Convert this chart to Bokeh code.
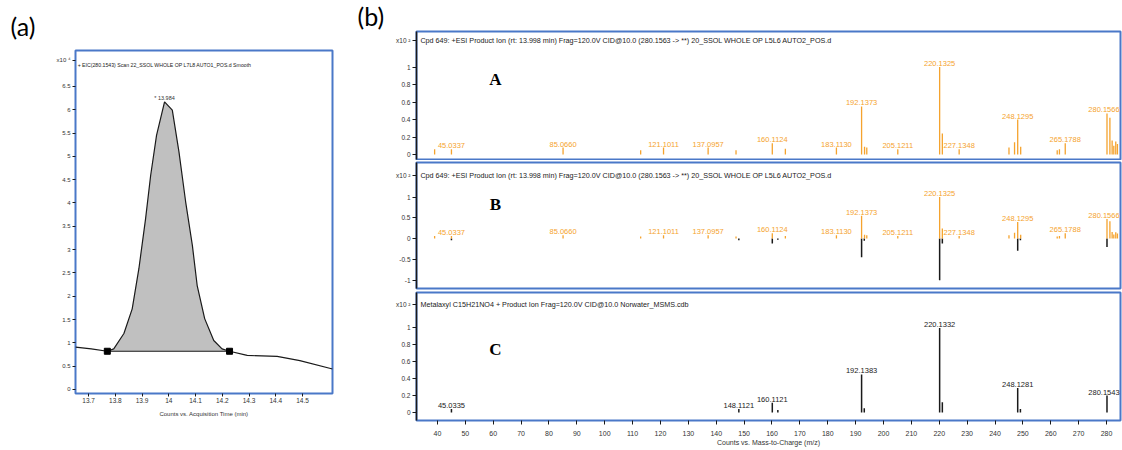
import numpy as np
from bokeh.plotting import figure
from bokeh.layouts import row, column
from bokeh.models import Range1d, Label, FixedTicker, NumeralTickFormatter, Title
from bokeh.core.properties import value
from bokeh.embed import file_html
from bokeh.resources import INLINE

SANS = "Liberation Sans"
ORANGE = "#F5A32E"
BLUE = "#4A78C8"
DARK = "#1a1a1a"
TICKC = "#333333"

# ---------------- (a) EIC data ----------------
eic_time = [13.651, 13.71, 13.770, 13.794, 13.832, 13.863, 13.888, 13.913, 13.932, 13.954,
            13.984, 14.013, 14.038, 14.063, 14.088, 14.106, 14.134, 14.168, 14.199, 14.227,
            14.293, 14.405, 14.49, 14.612]
eic_counts = [0.91, 0.87, 0.82, 0.87, 1.20, 1.73, 2.59, 3.66, 4.59, 5.45,
              6.17, 5.99, 5.09, 4.02, 3.09, 2.23, 1.52, 1.05, 0.87, 0.82,
              0.73, 0.71, 0.62, 0.44]
integ_time = [13.770, 14.227]
integ_level = [0.82, 0.82]
apex_time = 13.984
apex_count = 6.17
a_xticks = [13.7, 13.8, 13.9, 14.0, 14.1, 14.2, 14.3, 14.4, 14.5]
a_yticks = [0, 0.5, 1, 1.5, 2, 2.5, 3, 3.5, 4, 4.5, 5, 5.5, 6, 6.5]
a_title = "+ EIC(280.1543) Scan 22_SSOL WHOLE OP L7L8 AUTO1_POS.d  Smooth"
a_mult = "x10 \u2074"

# ---------------- (b) spectra data ----------------
A_label_mz = [45.0337, 85.0660, 121.1011, 137.0957, 160.1124, 183.1130, 192.1373,
              205.1211, 220.1325, 227.1348, 248.1295, 265.1788, 280.1566]
A_label_int = [0.06, 0.08, 0.08, 0.08, 0.13, 0.08, 0.55,
               0.06, 1.00, 0.06, 0.40, 0.13, 0.47]
A_extra_mz = [39.0, 112.9, 147.1, 164.8, 193.2, 194.0, 221.1, 245.0, 247.0, 249.2,
              262.3, 263.1, 281.2, 282.0, 282.6, 283.3, 283.9]
A_extra_int = [0.06, 0.05, 0.05, 0.065, 0.09, 0.08, 0.24, 0.08, 0.14, 0.09,
               0.05, 0.06, 0.42, 0.16, 0.10, 0.15, 0.12]

C_label_mz = [45.0335, 148.1121, 160.1121, 192.1383, 220.1332, 248.1281, 280.1543]
C_label_int = [0.04, 0.04, 0.115, 0.45, 1.00, 0.29, 0.20]
C_extra_mz = [162.1, 193.1, 221.1, 249.1]
C_extra_int = [0.03, 0.05, 0.12, 0.04]

spec_xticks = list(range(40, 290, 10))
A_yticks = [0, 0.2, 0.4, 0.6, 0.8, 1]
B_yticks = [-1, -0.5, 0, 0.5, 1]
C_yticks = [0, 0.2, 0.4, 0.6, 0.8, 1]
spec_mult = "x10 \u00b2"
title_AB = "Cpd 649: +ESI Product Ion (rt: 13.998 min) Frag=120.0V CID@10.0 (280.1563 -> **) 20_SSOL WHOLE OP L5L6 AUTO2_POS.d"
title_C = "Metalaxyl C15H21NO4 + Product Ion Frag=120.0V CID@10.0 Norwater_MSMS.cdb"


def style_axis(ax, size):
    ax.major_label_text_font = SANS
    ax.major_label_text_font_size = size
    ax.major_label_text_color = TICKC
    ax.major_tick_in = 0
    ax.major_tick_out = 3
    ax.minor_tick_line_color = None
    ax.major_tick_line_color = DARK


def set_yticks(ax, ticks, mult_y, mult_text):
    ax.ticker = FixedTicker(ticks=ticks + [mult_y])
    ax.formatter = NumeralTickFormatter(format="0.[0]")
    ax.major_label_overrides = {mult_y: mult_text}


# ---------------- figure (a) ----------------
fa = figure(width=350, height=425, x_range=Range1d(13.651, 14.612), y_range=Range1d(-0.086, 7.27),
            output_backend="svg", toolbar_location=None,
            min_border_left=75, min_border_right=18, min_border_top=50, min_border_bottom=32)
fa.outline_line_color = BLUE
fa.outline_line_width = 2
fa.grid.visible = False
fa.xaxis.ticker = FixedTicker(ticks=a_xticks)
fa.xaxis.formatter = NumeralTickFormatter(format="0.[0]")
set_yticks(fa.yaxis[0], a_yticks, 7.06, a_mult)
style_axis(fa.xaxis[0], "6.5px")
style_axis(fa.yaxis[0], "6px")
fa.xaxis.axis_line_color = None
fa.yaxis.axis_line_color = None
fa.xaxis.major_label_standoff = 1
fa.yaxis.major_label_standoff = 2
fa.xaxis.axis_label = "Counts vs. Acquisition Time (min)"
fa.xaxis.axis_label_text_font = SANS
fa.xaxis.axis_label_text_font_size = "6px"
fa.xaxis.axis_label_text_font_style = "normal"
fa.xaxis.axis_label_text_color = TICKC
fa.xaxis.axis_label_standoff = 5
fa.add_layout(Title(text="(a)", align="left", offset=-65, text_font="Lato", text_font_size="25px",
                    text_font_style="normal", text_color="black", standoff=15,
                    vertical_align="top"), "above")

# filled integrated region
i0 = eic_time.index(integ_time[0])
i1 = eic_time.index(integ_time[1])
fill_t = eic_time[i0:i1 + 1]
fill_c = eic_counts[i0:i1 + 1]
fill_base = list(np.interp(fill_t, integ_time, integ_level))
fa.varea(x=fill_t, y1=fill_base, y2=fill_c, fill_color="#C0C0C0")
fa.line(x=integ_time, y=integ_level, line_color=DARK, line_width=1.2)
fa.line(x=eic_time, y=eic_counts, line_color=DARK, line_width=1.2)
fa.scatter(x=integ_time, y=integ_level, marker="square", size=6, fill_color="black", line_color="black")
fa.text(x=[apex_time], y=[apex_count], text=[f"* {apex_time}"], text_font=value(SANS),
        text_font_size="5.5px", text_align="center", text_baseline="bottom", y_offset=-1,
        text_color=TICKC)
fa.add_layout(Label(x=13.659, y=6.95, text=a_title, text_font=SANS, text_font_size="5.2px",
                    text_baseline="middle", text_color=DARK))

# ---------------- spectra figures ----------------
xr = Range1d(32.5, 285.0)


def spec_fig(h, top, bottom, y0, y1, yticks, mult_y, with_xaxis):
    p = figure(width=772, height=h, x_range=xr, y_range=Range1d(y0, y1),
               output_backend="svg", toolbar_location=None,
               min_border_left=66, min_border_right=2, min_border_top=top, min_border_bottom=bottom,
               x_axis_location="below" if with_xaxis else None)
    p.outline_line_color = BLUE
    p.outline_line_width = 2
    p.grid.visible = False
    set_yticks(p.yaxis[0], yticks, mult_y, spec_mult)
    style_axis(p.yaxis[0], "6.5px")
    p.yaxis.major_tick_out = 4
    p.yaxis.major_label_standoff = 2
    p.yaxis.axis_line_color = DARK
    p.yaxis.axis_line_width = 1.5
    return p


def add_title(p, y, txt):
    p.add_layout(Label(x=33.9, y=y, text=txt, text_font=SANS, text_font_size="7.2px",
                       text_baseline="middle", text_color=DARK))


def add_letter(p, y, letter):
    p.add_layout(Label(x=60.8, y=y, text=letter, text_font="Liberation Serif", text_font_size="17px",
                       text_font_style="bold", text_align="center", text_baseline="middle",
                       text_color="black"))


def stems(p, mz, inten, color, w=1.3):
    p.segment(x0=mz, y0=[0] * len(mz), x1=mz, y1=inten, line_color=color, line_width=w)


def peak_labels(p, mz, inten, color):
    kw = dict(text_font=value(SANS), text_font_size="7.5px", text_baseline="bottom",
              y_offset=-1, text_color=color)
    p.text(x=mz[:-1], y=inten[:-1], text=[f"{m:.4f}" for m in mz[:-1]], text_align="center", **kw)
    # last label kept inside the frame edge
    p.text(x=mz[-1:], y=inten[-1:], text=[f"{m:.4f}" for m in mz[-1:]], text_align="center",
           x_offset=-3, **kw)


# Panel A
pA = spec_fig(160, 31, 1, -0.057, 1.406, A_yticks, 1.30, False)
stems(pA, A_extra_mz, A_extra_int, ORANGE)
stems(pA, A_label_mz, A_label_int, ORANGE)
peak_labels(pA, A_label_mz, A_label_int, ORANGE)
add_title(pA, 1.30, title_AB)
add_letter(pA, 0.857, "A")
pA.add_layout(Title(text="(b)", align="left", offset=-59, text_font="Lato", text_font_size="25px",
                    text_font_style="normal", text_color="black", standoff=-2,
                    vertical_align="top"), "above")

# Panel B (mirror)
pB = spec_fig(130, 2, 2, -1.2, 1.83, B_yticks, 1.52, False)
stems(pB, C_extra_mz, [-v for v in C_extra_int], DARK, 1.5)
stems(pB, C_label_mz, [-v for v in C_label_int], DARK, 1.5)
stems(pB, A_extra_mz, A_extra_int, ORANGE)
stems(pB, A_label_mz, A_label_int, ORANGE)
peak_labels(pB, A_label_mz, A_label_int, ORANGE)
add_title(pB, 1.52, title_AB)
add_letter(pB, 0.82, "B")

# Panel C (library)
pC = spec_fig(158, 2, 28, -0.095, 1.42, C_yticks, 1.28, True)
pC.xaxis.ticker = FixedTicker(ticks=spec_xticks)
style_axis(pC.xaxis[0], "7px")
pC.xaxis.major_tick_out = 4
pC.xaxis.major_label_standoff = 6
pC.xaxis.axis_line_color = None
pC.xaxis.axis_label = "Counts vs. Mass-to-Charge (m/z)"
pC.xaxis.axis_label_text_font = SANS
pC.xaxis.axis_label_text_font_size = "7px"
pC.xaxis.axis_label_text_font_style = "normal"
pC.xaxis.axis_label_text_color = TICKC
pC.xaxis.axis_label_standoff = 0
stems(pC, C_extra_mz, C_extra_int, DARK, 1.5)
stems(pC, C_label_mz, C_label_int, DARK, 1.5)
peak_labels(pC, C_label_mz, C_label_int, DARK)
add_title(pC, 1.28, title_C)
add_letter(pC, 0.742, "C")

layout = row(fa, column(pA, pB, pC))
open("out.html", "w").write(file_html(layout, INLINE))
